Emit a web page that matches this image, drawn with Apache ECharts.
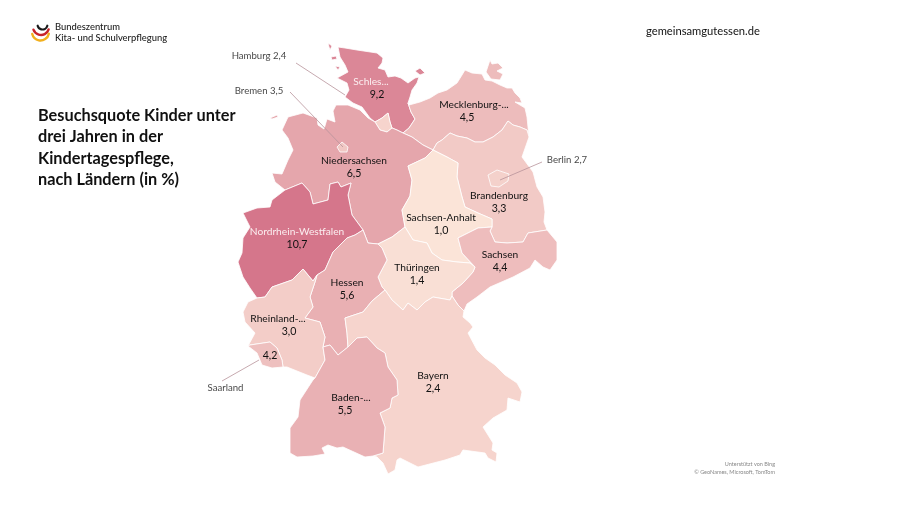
<!DOCTYPE html>
<html lang="de">
<head>
    <meta charset="UTF-8">
    <title>Besuchsquote Kinder unter drei Jahren in der Kindertagespflege</title>
    <script src="https://cdn.jsdelivr.net/npm/echarts@6/dist/echarts.min.js"></script>
    <style>html, body { margin: 0; background: #fff; }</style>
</head>
<body>
<div id="chart" style="width: 900px;height: 506px"></div>
<script type="text/javascript">
    // Werte
    var laender = ['Schleswig-Holstein', 'Hamburg', 'Mecklenburg-Vorpommern', 'Niedersachsen', 'Bremen', 'Brandenburg', 'Berlin', 'Sachsen-Anhalt', 'Sachsen', 'Thüringen', 'Nordrhein-Westfalen', 'Hessen', 'Rheinland-Pfalz', 'Saarland', 'Bayern', 'Baden-Württemberg'];
    var quoten = [9.2, 2.4, 4.5, 6.5, 3.5, 3.3, 2.7, 1.0, 4.4, 1.4, 10.7, 5.6, 3.0, 4.2, 2.4, 5.5];
    var kurznamen = ['Schles...', '', 'Mecklenburg-...', 'Niedersachsen', '', 'Brandenburg', '', 'Sachsen-Anhalt', 'Sachsen', 'Thüringen', 'Nordrhein-Westfalen', 'Hessen', 'Rheinland-...', '', 'Bayern', 'Baden-...'];
    var aussenNamen = ['Hamburg', 'Bremen', 'Berlin'];

    // Grenzabschnitte, gemeinsam genutzt damit keine Lücken entstehen (x, y wie im Bild)
    var b = {
        shHh: [[375,122],[382,118],[388,113],[390,122],[392,128]],
        hhNds: [[392,128],[387,132],[380,130],[375,122]],
        shNds: [[392,128],[397,130],[403,133]],
        shMv: [[403,133],[409,128],[415,119],[411,112],[408,103]],
        shKueste: [[408,103],[410,97],[412,90],[417,83],[419,77],[415,78],[408,83],[401,78],[395,76],[388,77],[385,70],[378,68],[382,63],[383,58],[377,53],[357,50],[345,48],[338,47],[340,57],[345,65],[348,72],[337,78],[347,83],[349,90],[345,97],[353,103],[362,107],[370,118],[375,122]],
        mvKueste: [[408,103],[409,105],[420,102],[430,98],[438,93],[447,90],[457,83],[462,75],[465,70],[472,73],[482,74],[485,80],[492,81],[500,85],[507,88],[512,88],[515,93],[520,98],[522,103],[515,102],[520,105],[525,108],[527,117],[528,127],[529,137]],
        mvBb: [[433,150],[437,143],[442,140],[450,133],[457,136],[467,138],[475,142],[483,142],[493,137],[502,130],[508,121],[513,125],[520,127],[527,130],[529,137]],
        ndsMv: [[403,133],[412,137],[423,145],[433,150]],
        bbSt: [[433,150],[437,152],[447,157],[458,163],[457,177],[462,197],[465,207],[478,213],[492,219],[492,227]],
        ndsSt: [[433,150],[425,158],[408,166],[412,180],[410,196],[402,210],[405,227]],
        ndsTh: [[405,227],[392,237],[378,244]],
        ndsHe: [[378,244],[368,243],[363,230]],
        ndsNw: [[363,230],[352,215],[348,195],[351,183],[341,187],[338,182],[330,184],[328,200],[313,204],[310,192],[302,183],[285,190]],
        ndsWest: [[285,190],[275,182],[272,173],[282,174],[288,160],[293,150],[288,138],[282,130],[288,117],[303,113],[317,118],[318,125],[324,129],[327,119],[335,122],[333,111],[336,105],[348,105],[360,110],[368,118],[375,122]],
        nwWest: [[285,190],[272,200],[270,207],[257,208],[243,213],[245,217],[250,227],[243,238],[242,253],[238,262],[243,277],[250,288],[257,298]],
        nwRp: [[257,298],[265,297],[272,287],[292,280],[303,269],[313,281],[317,275]],
        nwHe: [[317,275],[325,270],[333,252],[342,243],[347,238],[355,235],[363,230]],
        rpHe: [[317,275],[315,282],[310,297],[313,307],[305,318],[320,322],[325,337],[323,347]],
        rpBw: [[323,347],[325,360],[315,378]],
        heBw: [[323,347],[330,345],[338,355],[348,347]],
        heBy: [[348,347],[347,333],[345,318],[363,312],[372,301],[385,290]],
        heTh: [[385,290],[382,287],[378,277],[387,260],[382,248],[378,244]],
        thBy: [[385,290],[392,300],[403,310],[408,303],[417,310],[425,302],[433,297],[450,300],[452,296]],
        thSn: [[452,296],[452,292],[463,283],[473,272],[475,267]],
        thSt: [[405,227],[413,240],[427,243],[432,253],[442,260],[457,262],[470,263],[475,267]],
        stSn: [[475,267],[462,253],[458,238],[478,228],[492,227]],
        bbSn: [[492,227],[490,231],[495,242],[507,243],[523,242],[528,233],[547,230]],
        bbOst: [[529,137],[522,157],[533,172],[537,187],[543,197],[545,212],[544,222],[547,230]],
        snOst: [[547,230],[557,242],[557,260],[550,270],[543,267],[535,260],[530,268],[513,277],[490,287],[477,297],[467,304],[464,311]],
        snBy: [[464,311],[458,305],[452,296]],
        byOst: [[464,311],[463,317],[470,323],[473,327],[468,333],[477,350],[485,358],[495,365],[505,375],[517,383],[522,392],[520,402],[508,398],[507,410],[493,418],[483,427],[493,443],[492,450],[497,453],[496,462],[488,458],[485,453],[463,450],[460,455],[445,460],[418,467],[400,458],[397,460],[395,470],[388,474],[383,463],[377,457],[373,456]],
        byBw: [[348,347],[357,338],[367,337],[377,348],[385,353],[388,367],[397,380],[398,395],[392,398],[390,408],[380,413],[385,427],[383,453],[373,456]],
        bwSued: [[373,456],[365,457],[343,447],[337,448],[328,445],[322,448],[325,454],[313,456],[297,457],[290,453],[290,428],[298,417],[300,400],[313,380],[315,378]],
        rpSued: [[315,378],[307,375],[287,367],[283,367]],
        rpSl: [[283,367],[282,360],[277,348],[270,342],[250,345],[248,346]],
        slSued: [[283,367],[272,368],[262,365],[257,353],[248,346]],
        rpWest: [[248,346],[255,333],[245,322],[243,312],[248,302],[257,298]]
    };

    // '-' vorne = Abschnitt rückwärts durchlaufen
    function ring(teile) {
        var pts = [];
        teile.forEach(function (t) {
            var seg = t[0] === '-' ? b[t.slice(1)].slice().reverse() : b[t];
            pts = pts.concat(pts.length ? seg.slice(1) : seg);
        });
        return pts;
    }

    // Reihenfolge wichtig: Bremen und Berlin liegen auf Niedersachsen und Brandenburg
    var umrisse = {
        'Schleswig-Holstein': [
            ring(['shKueste', 'shHh', 'shNds', 'shMv']),
            [[328,43],[332,46],[330,50],[329,47]],
            [[331,57],[336,56],[337,59],[332,60]],
            [[335,66],[340,67],[338,70]],
            [[415,71],[420,68],[425,73],[420,75]]
        ],
        'Hamburg': [ring(['shHh', 'hhNds'])],
        'Mecklenburg-Vorpommern': [
            ring(['shMv', 'mvKueste', '-mvBb', '-ndsMv']),
            [[490,60],[492,64],[498,63],[503,68],[497,71],[503,74],[500,80],[491,79],[486,72],[488,66]]
        ],
        'Niedersachsen': [
            ring(['ndsWest', '-hhNds', 'shNds', 'ndsMv', 'ndsSt', 'ndsTh', 'ndsHe', 'ndsNw']),
            [[270,118],[277,115],[278,117],[272,119]]
        ],
        'Bremen': [[[337,147],[342,142],[348,147],[347,152],[340,152]]],
        'Brandenburg': [ring(['mvBb', 'bbOst', '-bbSn', '-bbSt'])],
        'Berlin': [[[488,175],[497,170],[509,174],[508,181],[499,187],[491,186]]],
        'Sachsen-Anhalt': [ring(['bbSt', '-stSn', '-thSt', '-ndsSt'])],
        'Sachsen': [ring(['stSn', 'bbSn', 'snOst', 'snBy', 'thSn'])],
        'Thüringen': [ring(['thSt', '-thSn', '-thBy', 'heTh', '-ndsTh'])],
        'Nordrhein-Westfalen': [ring(['nwWest', 'nwRp', 'nwHe', 'ndsNw'])],
        'Hessen': [ring(['-nwHe', 'rpHe', 'heBw', 'heBy', 'heTh', 'ndsHe'])],
        'Rheinland-Pfalz': [ring(['-nwRp', '-rpWest', '-rpSl', '-rpSued', '-rpBw', '-rpHe'])],
        'Saarland': [ring(['rpSl', '-slSued'])],
        'Bayern': [ring(['-heBy', 'byBw', '-byOst', 'snBy', '-thBy'])],
        'Baden-Württemberg': [ring(['heBw', 'byBw', 'bwSued', '-rpBw'])]
    };

    // Position der Beschriftung: x = Mitte des Wertes, dx = Versatz des Namens dazu
    var labelPos = {
        'Schleswig-Holstein': [377, 88.5, -6],
        'Mecklenburg-Vorpommern': [467, 111, 7],
        'Niedersachsen': [354, 167.5, 0],
        'Brandenburg': [499, 202.5, 0],
        'Sachsen-Anhalt': [441, 224.5, 0],
        'Sachsen': [500, 261.5, 0],
        'Thüringen': [417, 274.5, 0],
        'Nordrhein-Westfalen': [297, 238.5, 0],
        'Hessen': [347, 289.5, 0],
        'Rheinland-Pfalz': [289, 325.5, -11],
        'Saarland': [270, 355.5, 0],
        'Bayern': [433, 382.5, 0],
        'Baden-Württemberg': [345, 404.5, 6]
    };

    // Texte neben der Karte mit Führungslinie
    var aussenLabels = {'Hamburg': [259, 56], 'Bremen': [259, 91], 'Berlin': [567, 160], 'Saarland': [225.5, 388]};
    var fuehrung = [
        [[296, 63], [345, 95]],
        [[290, 92], [343, 147]],
        [[542, 162], [500, 180]],
        [[222, 381], [259, 360]]
    ];

    function fmt(v) {
        return v.toFixed(1).replace('.', ',');
    }

    function toGeo(p) {
        return [p[0], -p[1]];
    }

    var features = laender.map(function (name) {
        var props = {name: name};
        if (labelPos[name]) {
            props.cp = toGeo(labelPos[name]);
        }
        return {
            type: 'Feature',
            properties: props,
            geometry: {
                type: 'MultiPolygon',
                coordinates: umrisse[name].map(function (r) {
                    var pts = r.map(toGeo);
                    pts.push(pts[0]);
                    return [pts];
                })
            }
        };
    });
    echarts.registerMap('deutschland', {type: 'FeatureCollection', features: features});

    var schrift = 'Lato';
    var hell = ['Schleswig-Holstein', 'Nordrhein-Westfalen'];

    var mapData = laender.map(function (name, i) {
        var item = {name: name, value: quoten[i]};
        if (!kurznamen[i] && name !== 'Saarland') {
            item.label = {show: false};
            return item;
        }
        var dx = labelPos[name][2];
        item.label = {
            formatter: (kurznamen[i] ? '{n|' + kurznamen[i] + '}\n' : '') + '{v|' + fmt(quoten[i]) + '}',
            rich: {
                n: {
                    fontFamily: schrift,
                    fontSize: 10.2,
                    lineHeight: 13,
                    color: hell.indexOf(name) >= 0 ? '#fbeef0' : '#111',
                    padding: [0, dx < 0 ? -2 * dx : 0, 0, dx > 0 ? 2 * dx : 0]
                },
                v: {fontFamily: schrift, fontSize: 10.6, lineHeight: 13, color: '#111'}
            }
        };
        return item;
    });

    var aussenData = Object.keys(aussenLabels).map(function (name) {
        var text = aussenNamen.indexOf(name) >= 0 ? name + ' ' + fmt(quoten[laender.indexOf(name)]) : name;
        return {name: text, value: toGeo(aussenLabels[name])};
    });

    var echart = echarts.init(document.getElementById('chart'));

    var options = {
        backgroundColor: '#fff',
        animation: false,
        title: {
            text: 'Besuchsquote Kinder unter\ndrei Jahren in der\nKindertagespflege,\nnach Ländern (in %)',
            left: 38,
            top: 105,
            padding: 0,
            textStyle: {fontFamily: schrift, fontSize: 16.3, fontWeight: 'bold', lineHeight: 21.3, color: '#111'}
        },
        visualMap: {
            show: false,
            type: 'continuous',
            seriesIndex: 0,
            min: 1,
            max: 10.7,
            inRange: {color: ['#fbe4d8', '#d5768b']}
        },
        geo: {
            map: 'deutschland',
            silent: true,
            aspectScale: 1,
            boundingCoords: [[0, 0], [900, -506]],
            layoutCenter: ['50%', '50%'],
            layoutSize: 900,
            z: 0,
            label: {show: false},
            itemStyle: {areaColor: 'transparent', borderWidth: 0}
        },
        series: [
            {
                type: 'map',
                map: 'deutschland',
                silent: true,
                selectedMode: false,
                aspectScale: 1,
                boundingCoords: [[0, 0], [900, -506]],
                layoutCenter: ['50%', '50%'],
                layoutSize: 900,
                label: {show: true, color: '#111', fontFamily: schrift, fontSize: 10.6},
                itemStyle: {borderColor: '#fff', borderWidth: 0.8},
                data: mapData
            },
            {
                type: 'lines',
                coordinateSystem: 'geo',
                silent: true,
                polyline: false,
                lineStyle: {color: '#b8939a', width: 0.8, opacity: 1},
                data: fuehrung.map(function (l) {
                    return {coords: l.map(toGeo)};
                })
            },
            {
                type: 'scatter',
                coordinateSystem: 'geo',
                silent: true,
                symbolSize: 0,
                label: {
                    show: true,
                    position: 'inside',
                    formatter: '{b}',
                    color: '#111',
                    fontFamily: schrift,
                    fontSize: 9.6
                },
                data: aussenData
            }
        ],
        graphic: [
            {type: 'arc', shape: {cx: 42.5, cy: 24.5, r: 5, startAngle: 0.25, endAngle: 2.9}, style: {stroke: '#1a1a1a', fill: null, lineWidth: 2.2, lineCap: 'round'}},
            {type: 'arc', shape: {cx: 41, cy: 27, r: 8, startAngle: 0.3, endAngle: 2.8}, style: {stroke: '#c8242b', fill: null, lineWidth: 2.4, lineCap: 'round'}},
            {type: 'arc', shape: {cx: 40.5, cy: 32, r: 8.5, startAngle: 0.2, endAngle: 2.9}, style: {stroke: '#f2b01e', fill: null, lineWidth: 2.4, lineCap: 'round'}},
            {type: 'text', left: 55, top: 22.5, style: {text: 'Bundeszentrum', fontFamily: schrift, fontSize: 9.4, fontWeight: 500, fill: '#222'}},
            {type: 'text', left: 55, top: 33.5, style: {text: 'Kita- und Schulverpflegung', fontFamily: schrift, fontSize: 9.4, fontWeight: 500, fill: '#222'}},
            {type: 'text', left: 646, top: 25.5, style: {text: 'gemeinsamgutessen.de', fontFamily: schrift, fontSize: 11.2, fill: '#111'}},
            {type: 'text', right: 125, top: 461, style: {text: 'Unterstützt von Bing', fontFamily: schrift, fontSize: 5.5, fill: '#888', align: 'right'}},
            {type: 'text', right: 125, top: 469, style: {text: '© GeoNames, Microsoft, TomTom', fontFamily: schrift, fontSize: 5.5, fill: '#888', align: 'right'}}
        ]
    };
    echart.setOption(options);
</script>
</body>
</html>
